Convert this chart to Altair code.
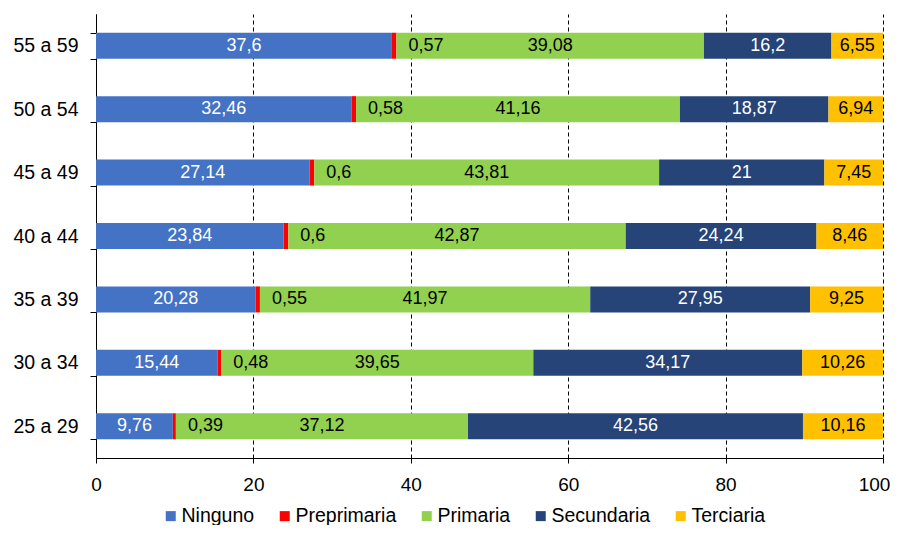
import altair as alt
import pandas as pd

grupos = ["55 a 59", "50 a 54", "45 a 49", "40 a 44", "35 a 39", "30 a 34", "25 a 29"]
series = ["Ninguno", "Preprimaria", "Primaria", "Secundaria", "Terciaria"]
colores = ["#4472C4", "#FF0000", "#92D050", "#264478", "#FFC000"]

ninguno = [37.6, 32.46, 27.14, 23.84, 20.28, 15.44, 9.76]
preprimaria = [0.57, 0.58, 0.6, 0.6, 0.55, 0.48, 0.39]
primaria = [39.08, 41.16, 43.81, 42.87, 41.97, 39.65, 37.12]
secundaria = [16.2, 18.87, 21, 24.24, 27.95, 34.17, 42.56]
terciaria = [6.55, 6.94, 7.45, 8.46, 9.25, 10.26, 10.16]

x_ticks = [0, 20, 40, 60, 80, 100]

valores = [ninguno, preprimaria, primaria, secundaria, terciaria]
rows = []
for si, (s, vals) in enumerate(zip(series, valores)):
    for g, v in zip(grupos, vals):
        rows.append({"grupo": g, "serie": s, "orden": si, "valor": v,
                     "etiqueta": f"{v:g}".replace(".", ",")})
df = pd.DataFrame(rows)

FONT = "Liberation Sans"

base = alt.Chart(df).transform_stack(
    stack="valor", groupby=["grupo"], as_=["x0", "x1"],
    sort=[alt.SortField("orden", order="ascending")]
).transform_calculate(xm="(datum.x0 + datum.x1) / 2")

y_enc = alt.Y(
    "grupo:N", sort=grupos, title=None,
    scale=alt.Scale(paddingInner=0.59, paddingOuter=0.295),
    axis=alt.Axis(tickBand="extent", tickSize=6, tickColor="black", domainColor="black",
                  labelFontSize=19.5, labelFont=FONT, labelColor="black", labelPadding=12,
                  grid=False),
)
x_scale = alt.Scale(domain=[0, 100], clamp=True, nice=False)

bars = base.mark_bar().encode(
    y=y_enc,
    x=alt.X("x0:Q", scale=x_scale, title=None,
            axis=alt.Axis(values=x_ticks, grid=True, gridColor="black", gridDash=[4, 3],
                          gridWidth=1, tickSize=5, tickColor="black", domainColor="black",
                          labelFontSize=19, labelFont=FONT, labelColor="black",
                          labelPadding=12, labelFlush=False,
                          labelOffset={"condition": {"test": "datum.value == 100", "value": -9},
                                       "value": 0})),
    x2="x1:Q",
    color=alt.Color("serie:N", scale=alt.Scale(domain=series, range=colores),
                    legend=alt.Legend(orient="none", legendX=65, legendY=492,
                                      direction="horizontal", title=None,
                                      symbolType="square", symbolSize=100,
                                      symbolStrokeWidth=0, symbolOpacity=1,
                                      labelFontSize=19.5, labelFont=FONT, labelColor="black",
                                      labelOffset=1, columnPadding=20, padding=0)),
)

text_color = alt.condition("datum.serie == 'Ninguno' || datum.serie == 'Secundaria'",
                           alt.value("white"), alt.value("black"))

labels_mid = base.transform_filter("datum.serie != 'Preprimaria'").mark_text(
    fontSize=18, font=FONT, align="center", baseline="middle"
).encode(
    y=alt.Y("grupo:N", sort=grupos),
    x=alt.X("xm:Q", scale=x_scale),
    text="etiqueta:N",
    color=text_color,
)

labels_pre = base.transform_filter("datum.serie == 'Preprimaria'").mark_text(
    fontSize=18, font=FONT, align="left", baseline="middle", dx=12, color="black"
).encode(
    y=alt.Y("grupo:N", sort=grupos),
    x=alt.X("x1:Q", scale=x_scale),
    text="etiqueta:N",
)

chart = alt.layer(bars, labels_mid, labels_pre).properties(
    width=787, height=444,
    padding={"left": 88, "top": 6, "right": 9, "bottom": 67},
    autosize=alt.AutoSizeParams(type="none"),
).configure_view(strokeWidth=0)

chart.save("out.html", embed_options={"renderer": "svg", "actions": False})
